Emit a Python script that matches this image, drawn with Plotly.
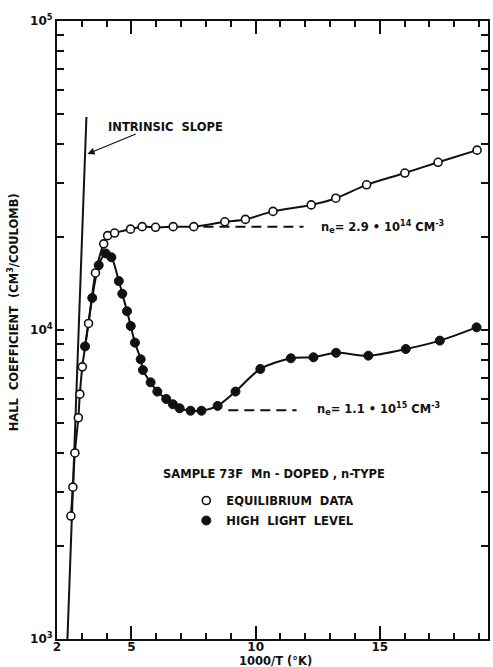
import numpy as np
import plotly.graph_objects as go

# Hall coefficient (cm^3/coulomb) versus 1000/T, sample 73F
eq_x = [2.56, 2.64, 2.72, 2.86, 2.92, 3.02, 3.27, 3.55, 3.88, 4.04, 4.32, 4.96,
        5.43, 5.97, 6.68, 7.51, 8.76, 9.59, 10.70, 12.24, 13.23, 14.47, 16.01,
        17.35, 18.92]
eq_y = [2500, 3100, 4000, 5200, 6200, 7600, 10500, 15300, 19000, 20200, 20600,
        21200, 21600, 21500, 21600, 21600, 22400, 22800, 24200, 25400, 26700,
        29500, 32200, 34900, 38200]

hl_x = [3.13, 3.42, 3.68, 3.96, 4.19, 4.49, 4.63, 4.82, 4.97, 5.14, 5.37, 5.46,
        5.77, 6.04, 6.40, 6.67, 6.94, 7.38, 7.82, 8.47, 9.19, 10.19, 11.42,
        12.33, 13.24, 14.54, 16.05, 17.42, 18.90]
hl_y = [8850, 12700, 16200, 17700, 17200, 14400, 13100, 11500, 10300, 9100,
        8040, 7420, 6770, 6320, 5980, 5750, 5580, 5480, 5480, 5680, 6320, 7480,
        8100, 8160, 8440, 8260, 8680, 9240, 10200]

# intrinsic slope line
intr_x = [2.42, 3.185]
intr_y = [1000, 48900]

# saturation levels
sat_eq_x = [7.9, 11.93]
sat_eq_y = [21600, 21600]
sat_hl_x = [8.9, 11.65]
sat_hl_y = [5500, 5500]

x_major = [2, 5, 10, 15]
x_minor = [v for v in range(3, 20) if v not in x_major]
y_major = [1e3, 1e4, 1e5]
y_major_text = ["10<sup>3</sup>", "10<sup>4</sup>", "10<sup>5</sup>"]
y_minor = [m * 10 ** e for e in (3, 4) for m in range(2, 10)]

NB = "\u00a0"
FONT = "DejaVu Sans"
INK = "#111111"

fig = go.Figure()

fig.add_trace(go.Scatter(x=intr_x, y=intr_y, mode="lines",
                         line=dict(color=INK, width=2), showlegend=False,
                         hoverinfo="skip"))
fig.add_trace(go.Scatter(x=sat_eq_x, y=sat_eq_y, mode="lines",
                         line=dict(color=INK, width=2, dash="10px,6px"),
                         showlegend=False))
fig.add_trace(go.Scatter(x=sat_hl_x, y=sat_hl_y, mode="lines",
                         line=dict(color=INK, width=2, dash="10px,6px"),
                         showlegend=False))

# smooth curves through the data
fig.add_trace(go.Scatter(x=eq_x, y=eq_y, mode="lines",
                         line=dict(color=INK, width=2, shape="spline",
                                   smoothing=0.8),
                         showlegend=False))
fig.add_trace(go.Scatter(x=hl_x, y=hl_y, mode="lines",
                         line=dict(color=INK, width=2, shape="spline",
                                   smoothing=0.8),
                         showlegend=False))

fig.add_trace(go.Scatter(x=eq_x, y=eq_y, mode="markers",
                         name=f"EQUILIBRIUM{NB}{NB}DATA",
                         marker=dict(symbol="circle", size=8, color="white",
                                     line=dict(color=INK, width=1.6)),
                         legendgroup="a"))
fig.add_trace(go.Scatter(x=hl_x, y=hl_y, mode="markers",
                         name=f"HIGH{NB}{NB}LIGHT{NB}{NB}LEVEL",
                         marker=dict(symbol="circle", size=9, color=INK,
                                     line=dict(color=INK, width=1)),
                         legendgroup="b"))

txt = dict(family=FONT, size=11.5, color=INK, weight="bold")

annotations = [
    dict(x=3.96, y=np.log10(45500), xref="x", yref="y",
         text=f"INTRINSIC{NB}{NB}SLOPE", showarrow=False,
         xanchor="left", yanchor="middle", font=txt),
    dict(x=3.225, y=np.log10(37120), ax=5.233, ay=np.log10(43300),
         xref="x", yref="y", axref="x", ayref="y", text="",
         showarrow=True, arrowhead=2, arrowsize=1.2, arrowwidth=1.2,
         arrowcolor=INK),
    dict(x=12.54, y=np.log10(21600), xref="x", yref="y",
         text=f"n<sub>e</sub>={NB}2.9{NB}•{NB}10<sup>14</sup>{NB}CM<sup>-3</sup>",
         showarrow=False, xanchor="left", yanchor="middle", font=txt),
    dict(x=12.40, y=np.log10(5540), xref="x", yref="y",
         text=f"n<sub>e</sub>={NB}1.1{NB}•{NB}10<sup>15</sup>{NB}CM<sup>-3</sup>",
         showarrow=False, xanchor="left", yanchor="middle", font=txt),
    dict(x=10.74, y=np.log10(3420), xref="x", yref="y",
         text=f"SAMPLE{NB}73F{NB}{NB}Mn{NB}-{NB}DOPED{NB},{NB}n-TYPE",
         showarrow=False, xanchor="center", yanchor="middle", font=txt),
    dict(x=0.506, y=-0.036, xref="paper", yref="paper",
         text="1000/T (°K)", showarrow=False,
         xanchor="center", yanchor="middle", font=txt),
    dict(x=-0.1016, y=0.529, xref="paper", yref="paper",
         text=f"HALL{NB}{NB}COEFFICIENT{NB}{NB}(CM<sup>3</sup>/COULOMB)",
         showarrow=False, textangle=-90,
         xanchor="center", yanchor="middle", font=txt),
]

axis_common = dict(showline=True, linecolor=INK, linewidth=2, mirror="ticks",
                   ticks="inside", tickcolor=INK, tickwidth=1.5,
                   showgrid=False, zeroline=False,
                   tickfont=dict(family=FONT, size=12, color=INK, weight="bold"))

fig.update_layout(
    width=493, height=667,
    margin=dict(l=57, r=3, t=21, b=28),
    paper_bgcolor="white", plot_bgcolor="white",
    xaxis=dict(range=[2, 19.36], tickvals=x_major,
               ticktext=[str(v) for v in x_major], ticklen=13,
               ticklabelstandoff=-4,
               minor=dict(tickvals=x_minor, ticks="inside", ticklen=6,
                          tickcolor=INK, tickwidth=1.5),
               **axis_common),
    yaxis=dict(type="log", range=[3, 5], tickvals=y_major,
               ticktext=y_major_text, ticklen=7,
               minor=dict(tickvals=y_minor, ticks="inside", ticklen=7,
                          tickcolor=INK, tickwidth=1.5),
               **axis_common),
    legend=dict(x=0.30, y=0.2476, xanchor="left", yanchor="top",
                bgcolor="rgba(0,0,0,0)", borderwidth=0,
                font=dict(family=FONT, size=11.5, color=INK, weight="bold"),
                itemwidth=30, tracegroupgap=1),
    annotations=annotations,
    showlegend=True,
)

fig.write_html("out.html")
